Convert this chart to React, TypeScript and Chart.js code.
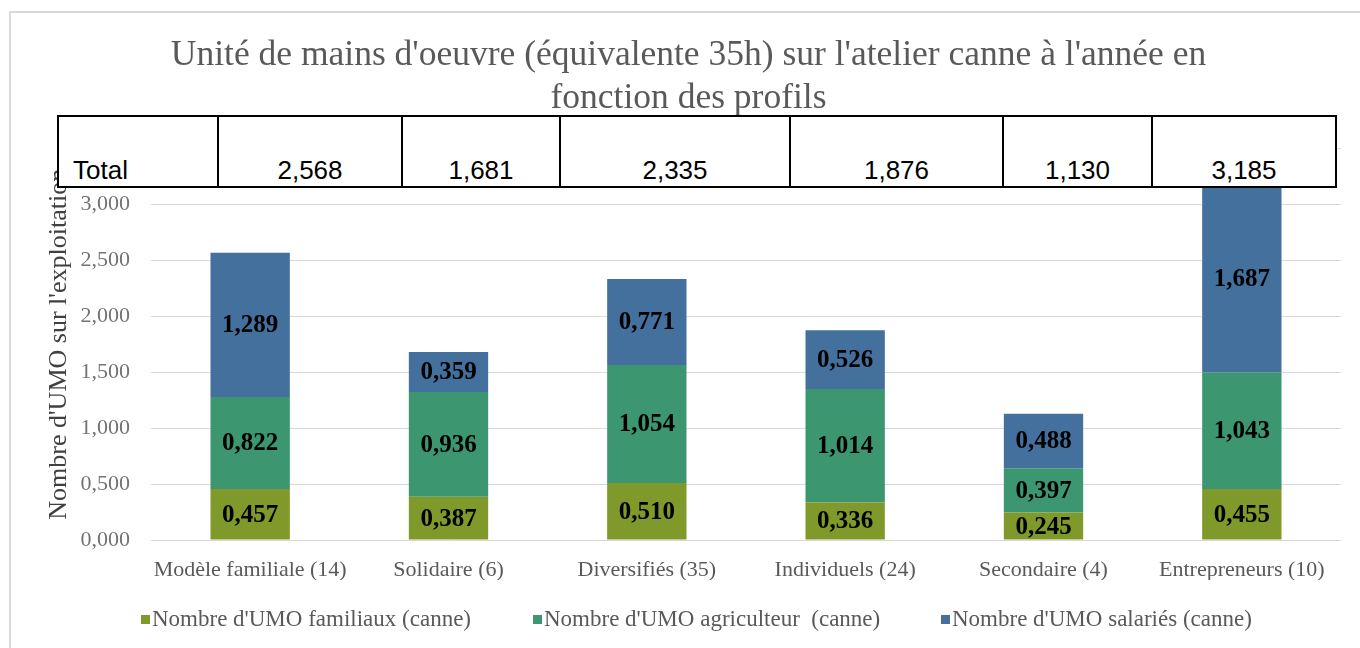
import React, { useEffect, useRef } from "react";
import { Chart, registerables } from "chart.js";

Chart.register(...registerables);

const titleLines = [
  "Unité de mains d'oeuvre (équivalente 35h) sur l'atelier canne à l'année en",
  "fonction des profils",
];
const categories = [
  "Modèle familiale (14)",
  "Solidaire (6)",
  "Diversifiés (35)",
  "Individuels (24)",
  "Secondaire (4)",
  "Entrepreneurs (10)",
];
const seriesNames = [
  "Nombre d'UMO familiaux (canne)",
  "Nombre d'UMO agriculteur  (canne)",
  "Nombre d'UMO salariés (canne)",
];
const familiaux = [0.457, 0.387, 0.51, 0.336, 0.245, 0.455];
const agriculteur = [0.822, 0.936, 1.054, 1.014, 0.397, 1.043];
const salaries = [1.289, 0.359, 0.771, 0.526, 0.488, 1.687];
const totals = [2.568, 1.681, 2.335, 1.876, 1.13, 3.185];
const seriesColors = ["#7F992A", "#3C9670", "#44709D"];
const yAxisTitle = "Nombre d'UMO sur l'exploitation";
const tableLabel = "Total";

const fmt = (v: number) => v.toFixed(3).replace(".", ",");

const SERIF = "'Liberation Serif', 'DejaVu Serif', serif";

const valueLabels = {
  id: "valueLabels",
  afterDatasetsDraw(chart: any) {
    const ctx = chart.ctx;
    ctx.save();
    ctx.font = `bold 25px ${SERIF}`;
    ctx.fillStyle = "#000000";
    ctx.textAlign = "center";
    ctx.textBaseline = "middle";
    chart.data.datasets.forEach((ds: any, i: number) => {
      const meta = chart.getDatasetMeta(i);
      meta.data.forEach((bar: any, j: number) => {
        const p = bar.getProps(["x", "y", "base"], true);
        ctx.fillText(fmt(ds.data[j]), p.x, (p.y + p.base) / 2 + 1);
      });
    });
    ctx.restore();
  },
};

export default function App() {
  const ref = useRef<HTMLCanvasElement>(null);

  useEffect(() => {
    if (!ref.current) return;
    const data = [familiaux, agriculteur, salaries];
    const chart = new Chart(ref.current, {
      type: "bar",
      data: {
        labels: categories,
        datasets: data.map((d, i) => ({
          label: seriesNames[i],
          data: d,
          backgroundColor: seriesColors[i],
          borderWidth: 0,
          categoryPercentage: 1,
          barPercentage: 0.4,
        })),
      },
      options: {
        responsive: false,
        animation: false,
        layout: { padding: { left: 36, right: 19, top: 0, bottom: 68 } },
        plugins: {
          legend: { display: false },
          tooltip: { enabled: false },
          title: {
            display: true,
            text: titleLines,
            color: "#595959",
            font: { family: SERIF, size: 35.5, weight: "normal", lineHeight: 1.22 },
            padding: { top: 34, bottom: 28 },
          },
        },
        scales: {
          x: {
            stacked: true,
            grid: { display: false, drawTicks: false },
            border: { display: false },
            ticks: {
              color: "#595959",
              font: { family: SERIF, size: 22 },
              padding: 17,
              maxRotation: 0,
              autoSkip: false,
            },
            afterFit: (s: any) => {
              s.height = 40;
            },
          },
          y: {
            stacked: true,
            min: 0,
            max: 3.5,
            grid: { color: "#d9d9d9", lineWidth: 1, drawTicks: false },
            border: { display: false },
            ticks: {
              stepSize: 0.5,
              color: "#737373",
              font: { family: SERIF, size: 22 },
              padding: 21,
              callback: (v: any) => fmt(Number(v)),
            },
            title: {
              display: true,
              text: yAxisTitle,
              color: "#404040",
              font: { family: SERIF, size: 26, weight: "normal" },
              padding: { top: 8, bottom: 0 },
            },
            afterFit: (s: any) => {
              s.width = 115;
            },
          },
        },
      },
      plugins: [valueLabels],
    });
    return () => chart.destroy();
  }, []);

  const colWidths = [158, 184, 158, 230, 213, 149, 184];
  const cells = [tableLabel, ...totals.map(fmt)];

  const legendLefts = [141, 533, 941];

  return (
    <div
      style={{
        position: "absolute",
        left: 0,
        top: 0,
        width: 1360,
        height: 648,
        background: "#ffffff",
        overflow: "hidden",
      }}
    >
      <div
        style={{
          position: "absolute",
          left: 9,
          top: 11,
          width: 1400,
          height: 700,
          borderLeft: "2px solid #d9d9d9",
          borderTop: "2px solid #d9d9d9",
        }}
      />
      <canvas
        ref={ref}
        width={1360}
        height={648}
        style={{ position: "absolute", left: 0, top: 0, width: 1360, height: 648 }}
      />
      <div
        style={{
          position: "absolute",
          left: 57,
          top: 115,
          height: 73,
          boxSizing: "border-box",
          border: "2px solid #000",
          display: "flex",
          background: "#fff",
          fontFamily: "'Liberation Sans', Arial, sans-serif",
          fontSize: 26,
          color: "#000",
        }}
      >
        {cells.map((c, i) => (
          <div
            key={i}
            style={{
              width: colWidths[i],
              boxSizing: "border-box",
              borderLeft: i === 0 ? "none" : "2px solid #000",
              display: "flex",
              alignItems: "flex-end",
              justifyContent: i === 0 ? "flex-start" : "center",
              paddingLeft: i === 0 ? 14 : 0,
              paddingBottom: 3,
              lineHeight: 1,
            }}
          >
            {c}
          </div>
        ))}
      </div>
      {seriesNames.map((n, i) => (
        <div
          key={n}
          style={{
            position: "absolute",
            left: legendLefts[i],
            top: 606,
            display: "flex",
            alignItems: "center",
            whiteSpace: "pre",
            fontFamily: SERIF,
            fontSize: 23,
            color: "#595959",
          }}
        >
          <span
            style={{
              display: "inline-block",
              width: 9,
              height: 9,
              background: seriesColors[i],
              marginRight: 2,
            }}
          />
          {n}
        </div>
      ))}
    </div>
  );
}
